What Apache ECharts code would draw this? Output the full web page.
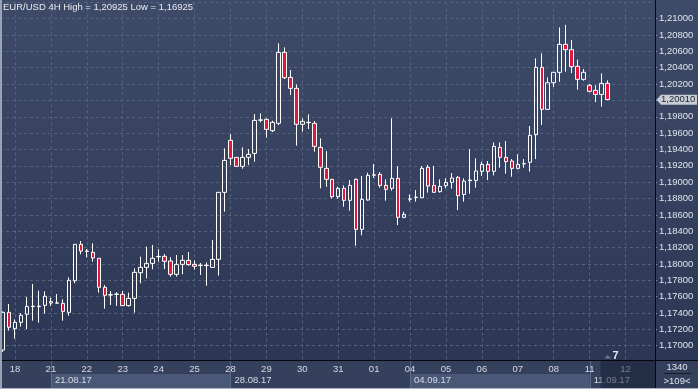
<!DOCTYPE html>
<html>
<head>
<meta charset="utf-8">
<script src="https://cdn.jsdelivr.net/npm/echarts@6/dist/echarts.min.js"></script>
<style>
html,body{margin:0;padding:0;background:#2c3756;}
#c{width:698px;height:389px;background:linear-gradient(to bottom,#3e4b68 0px,#2c3756 360px,#34405c 360px,#34405c 389px);}
</style>
</head>
<body>
<div id="c"></div>
<script>
// ---- axis categories (4H bars) ----
const tradingDays = ['17.08','18.08','21.08','22.08','23.08','24.08','25.08','28.08','29.08','30.08','31.08','01.09','04.09','05.09','06.09','07.09','08.09','11.09','12.09'];
const barsPerDay  = [2,6,6,6,6,6,6,6,6,6,6,6,6,6,6,6,6,6,5];
const weekLabels  = ['21.08.17','28.08.17','04.09.17','11.09.17'];
const lightWeeks  = [true,false,true,false];

// ---- OHLC values ----
const open = [1.16947,1.17408,1.17208,1.17286,1.17384,1.17478,1.17478,1.17494,1.17522,1.17520,
1.17518,1.17408,1.17795,1.18240,1.18153,1.18142,1.18069,1.17714,1.17620,1.17628,
1.17628,1.17490,1.17579,1.17893,1.17958,1.18007,1.18088,1.18093,1.18036,1.17873,
1.17995,1.18044,1.17995,1.17981,1.17981,1.17958,1.18056,1.18876,1.19512,1.19304,
1.19194,1.19304,1.19353,1.19758,1.19769,1.19630,1.19720,1.20588,1.20282,1.20148,
1.19708,1.19728,1.19720,1.19426,1.19169,1.19035,1.18823,1.18925,1.18778,1.19035,
1.18423,1.18782,1.19086,1.19096,1.18961,1.18925,1.19047,1.18570,1.18792,1.18813,
1.18811,1.19182,1.18961,1.18884,1.18957,1.18998,1.19059,1.18851,1.19018,1.19022,
1.19133,1.19218,1.19133,1.19426,1.19304,1.19259,1.19169,1.19224,1.19243,1.19581,
1.20405,1.19891,1.20217,1.20344,1.20686,1.20621,1.20417,1.20258,1.20185,1.20123,
1.20074,1.20209];
const close = [1.17408,1.17225,1.17286,1.17371,1.17481,1.17484,1.17484,1.17604,1.17539,1.17524,
1.17420,1.17800,1.18240,1.18158,1.18157,1.18073,1.17714,1.17616,1.17624,1.17632,
1.17490,1.17579,1.17897,1.17958,1.18007,1.18069,1.18092,1.18032,1.17873,1.17995,
1.18044,1.17991,1.17971,1.17985,1.17985,1.18056,1.18876,1.19267,1.19292,1.19194,
1.19304,1.19341,1.19756,1.19762,1.19646,1.19732,1.20588,1.20278,1.20148,1.19708,
1.19744,1.19732,1.19438,1.19182,1.19035,1.18823,1.18925,1.18778,1.18961,1.18423,
1.18790,1.19084,1.19090,1.18961,1.18913,1.19047,1.18570,1.18607,1.18796,1.18817,
1.19169,1.18953,1.18876,1.18949,1.18998,1.19051,1.18835,1.19014,1.19026,1.19137,
1.19218,1.19133,1.19438,1.19304,1.19251,1.19169,1.19218,1.19228,1.19573,1.20405,
1.19891,1.20217,1.20344,1.20686,1.20621,1.20413,1.20258,1.20344,1.20111,1.20074,
1.20209,1.20010];
const low = [1.16925,1.17184,1.17086,1.17233,1.17204,1.17306,1.17282,1.17392,1.17486,1.17514,
1.17306,1.17367,1.17763,1.18118,1.18080,1.18028,1.17649,1.17453,1.17498,1.17486,
1.17486,1.17478,1.17404,1.17763,1.17824,1.17934,1.18028,1.17938,1.17844,1.17844,
1.17873,1.17979,1.17930,1.17865,1.17734,1.17958,1.17857,1.18639,1.19210,1.19190,
1.19165,1.19210,1.19251,1.19732,1.19544,1.19614,1.19699,1.20262,1.20066,1.19447,
1.19618,1.19650,1.19373,1.18925,1.18945,1.18802,1.18798,1.18700,1.18652,1.18223,
1.18350,1.18774,1.19051,1.18933,1.18774,1.18896,1.18476,1.18558,1.18762,1.18762,
1.18808,1.18872,1.18874,1.18872,1.18925,1.18921,1.18660,1.18762,1.18860,1.18933,
1.19076,1.19027,1.19084,1.19178,1.19104,1.19067,1.19157,1.19178,1.19129,1.19283,
1.19699,1.19889,1.20164,1.20229,1.20352,1.20335,1.20132,1.20241,1.20099,1.19980,
1.19924,1.20005];
const high = [1.17420,1.17510,1.17322,1.17400,1.17596,1.17755,1.17673,1.17665,1.17587,1.17632,
1.17567,1.17836,1.18244,1.18280,1.18183,1.18252,1.18072,1.17742,1.17669,1.17653,
1.17669,1.17649,1.17946,1.18089,1.18211,1.18232,1.18179,1.18122,1.18081,1.18109,
1.18109,1.18146,1.18044,1.18011,1.18019,1.18293,1.18880,1.19414,1.19589,1.19308,
1.19426,1.19406,1.19834,1.19842,1.19781,1.19752,1.20698,1.20649,1.20372,1.20197,
1.19781,1.19830,1.19748,1.19536,1.19381,1.19040,1.18945,1.18961,1.19027,1.19047,
1.19076,1.19116,1.19222,1.19124,1.19035,1.19781,1.19194,1.18639,1.18851,1.18904,
1.19198,1.19211,1.19198,1.19035,1.19047,1.19112,1.19076,1.19047,1.19402,1.19292,
1.19251,1.19259,1.19487,1.19487,1.19504,1.19283,1.19341,1.19283,1.19687,1.20515,
1.20576,1.20282,1.20346,1.20894,1.20925,1.20739,1.20500,1.20384,1.20201,1.20185,
1.20330,1.20246];
const lastPrice = 1.20010;
const titleText = 'EUR/USD 4H High = 1,20925 Low = 1,16925';
const barShift = '7';
const cornerTop = '1340';
const cornerBottom = '>109<';

// ---- build categories ----
const categories = [];
tradingDays.forEach((d, di) => {
  const n = barsPerDay[di];
  const start = di === 0 ? 24 - 4 * n : 0;
  for (let k = 0; k < n; k++) {
    const h = start + 4 * k;
    categories.push(d + ' ' + (h < 10 ? '0' : '') + h + ':00');
  }
});
const seriesData = categories.map((c, i) => i < open.length ? [open[i], close[i], low[i], high[i]] : '-');
const isDayStart = (idx, val) => val.endsWith(' 00:00');

const FONT = "'Liberation Sans', Arial, sans-serif";
const FS = 9.5;
const GRID = '#55627e';

const chart = echarts.init(document.getElementById('c'), null, {renderer: 'canvas'});
const option = {
  animation: false,
  backgroundColor: 'transparent',
  grid: {left: 0, right: 45.5, top: 2.35, bottom: 29, containLabel: false},
  xAxis: {
    type: 'category', data: categories, boundaryGap: true,
    axisLine: {show: false}, axisTick: {show: false},
    axisLabel: {interval: isDayStart, formatter: v => v.slice(0, 2), color: '#d5dae3',
      fontSize: FS, fontFamily: FONT, margin: 4},
    splitLine: {show: true, interval: isDayStart, alignWithLabel: true,
      lineStyle: {color: GRID, type: [3, 3], width: 1}}
  },
  yAxis: {
    type: 'value', position: 'right', min: 1.16825, max: 1.212,
    minInterval: 0.002, maxInterval: 0.002, offset: 2.5,
    axisLine: {show: false},
    axisTick: {show: true, length: 2, lineStyle: {color: '#6f9bd6'}},
    axisLabel: {margin: 4, color: '#dfe3ea', fontSize: FS, fontFamily: FONT,
      showMaxLabel: false, showMinLabel: false,
      formatter: v => {
        const r = v / 0.002;
        if (Math.abs(r - Math.round(r)) > 1e-6) return '';
        if (Math.abs(v - 1.2) < 1e-9 || v > 1.2105) return '';
        return v.toFixed(5).replace('.', ',');
      }},
    splitLine: {show: true, lineStyle: {color: GRID, type: [3, 3], width: 1}}
  },
  series: [{
    type: 'candlestick', data: seriesData, barWidth: 4,
    itemStyle: {color: 'transparent', color0: '#e3173e', borderColor: '#ffffff',
      borderColor0: '#ffffff', borderWidth: 1}
  }]
};
chart.setOption(option);

const xPix = c => chart.convertToPixel({xAxisIndex: 0}, c);
const yPix = v => chart.convertToPixel({yAxisIndex: 0}, v);

const g = [];
// week bands, separators and labels
const weekIdx = weekLabels.map(w => categories.indexOf(w.slice(0, 5) + ' 00:00'));
weekIdx.forEach((idx, w) => {
  const x0 = xPix(categories[idx]);
  const x1 = w + 1 < weekIdx.length ? xPix(categories[weekIdx[w + 1]]) : 655;
  if (lightWeeks[w]) {
    g.push({type: 'rect', z: -5, shape: {x: x0, y: 374, width: x1 - x0, height: 15}, style: {fill: '#4a5877'}});
  }
  g.push({type: 'line', z: -4, shape: {x1: Math.round(x0) + 0.5, y1: 360, x2: Math.round(x0) + 0.5, y2: 389}, style: {stroke: '#5b6b8d', lineWidth: 1}});
  g.push({type: 'text', z: 1, x: x0 + 4, y: 380, style: {text: weekLabels[w], fill: '#d5dae3', fontSize: FS, fontFamily: FONT, verticalAlign: 'middle', align: 'left'}});
});
// future zone overlay
const xz = xPix(categories[open.length - 2]) - 1;
g.push({type: 'rect', z: 50, shape: {x: xz, y: 361, width: 655 - xz, height: 28}, style: {fill: 'rgba(20,27,48,0.5)'}});
// shift marker
const xl = xPix(categories[open.length - 1]);
g.push({type: 'polygon', z: 55, shape: {points: [[xl - 3.5, 358.5], [xl + 3.5, 358.5], [xl, 355]]}, style: {fill: '#69738a'}});
g.push({type: 'text', z: 55, x: xl + 8, y: 356, style: {text: barShift, fill: '#e3e7ee', fontSize: 11, fontWeight: 'bold', fontFamily: FONT, align: 'center', verticalAlign: 'middle'}});
// axis separator lines
g.push({type: 'line', z: 60, shape: {x1: 0, y1: 360.5, x2: 698, y2: 360.5}, style: {stroke: '#06080d', lineWidth: 1}});
g.push({type: 'line', z: 60, shape: {x1: 655.5, y1: 0, x2: 655.5, y2: 389}, style: {stroke: '#06080d', lineWidth: 1}});
// corner box
g.push({type: 'text', z: 60, x: 677, y: 367, style: {text: cornerTop, fill: '#dfe3ea', fontSize: FS, fontFamily: FONT, align: 'center', verticalAlign: 'middle'}});
g.push({type: 'line', z: 60, shape: {x1: 664, y1: 373.5, x2: 691, y2: 373.5}, style: {stroke: '#161c2a', lineWidth: 1}});
g.push({type: 'text', z: 60, x: 677, y: 381.5, style: {text: cornerBottom, fill: '#dfe3ea', fontSize: FS, fontFamily: FONT, align: 'center', verticalAlign: 'middle'}});
// last price tag
const yl = yPix(lastPrice);
g.push({type: 'polygon', z: 62, shape: {points: [[656.5, yl], [661, yl - 5], [697, yl - 5], [697, yl + 5], [661, yl + 5]]}, style: {fill: '#c9cdd3'}});
g.push({type: 'text', z: 63, x: 661, y: yl, style: {text: lastPrice.toFixed(5).replace('.', ','), fill: '#1e2636', fontSize: FS, fontFamily: FONT, align: 'left', verticalAlign: 'middle'}});
// title
g.push({type: 'text', z: 63, x: 3, y: 7.5, style: {text: titleText, fill: '#e8ebf0', fontSize: FS, fontFamily: FONT, align: 'left', verticalAlign: 'middle'}});
// frame
g.push({type: 'rect', z: 64, shape: {x: 0, y: 0, width: 2, height: 389}, style: {fill: '#9aa3b4'}});
g.push({type: 'rect', z: 64, shape: {x: 0, y: 388, width: 698, height: 1}, style: {fill: '#aab2c0'}});

chart.setOption({graphic: {elements: g}});
</script>
</body>
</html>
